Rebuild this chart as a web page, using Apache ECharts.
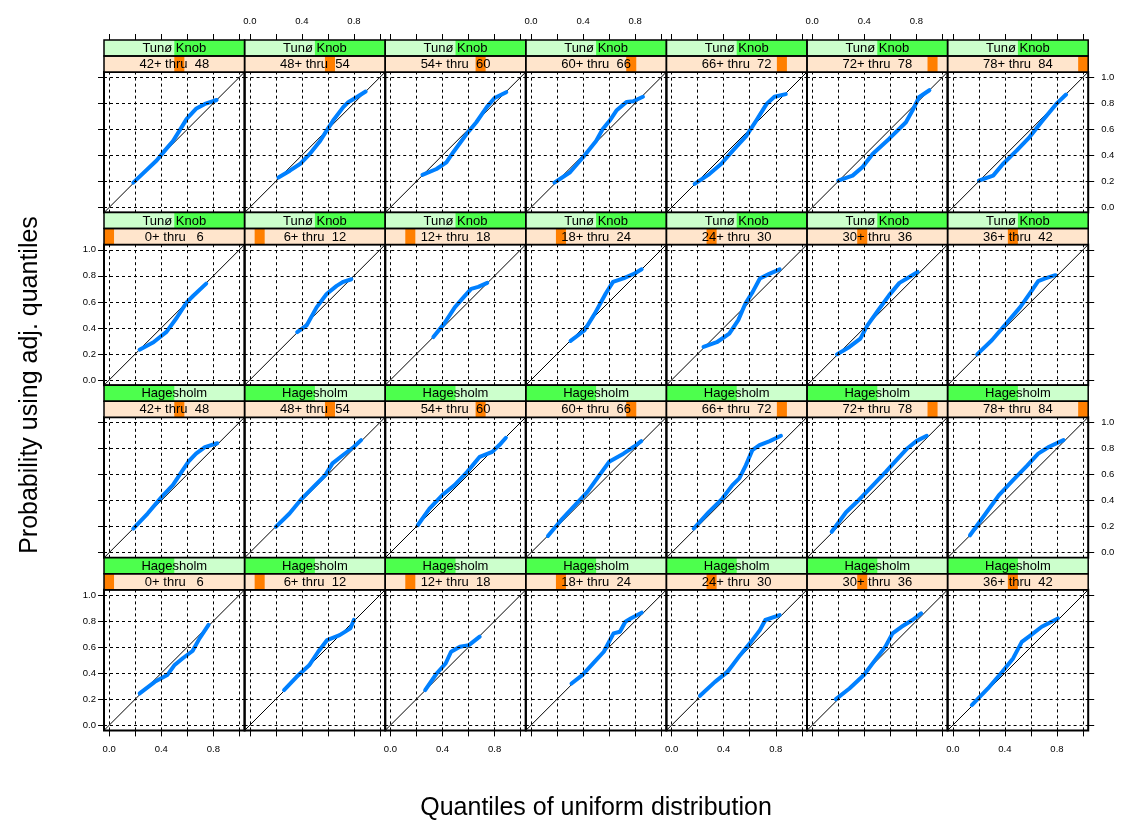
<!DOCTYPE html>
<html><head><meta charset="utf-8">
<script src="https://cdn.jsdelivr.net/npm/echarts@6/dist/echarts.min.js"></script>
<style>html,body{margin:0;padding:0;background:#fff}#c{width:1121px;height:824px}</style>
</head><body><div id="c"></div>
<script>
// ---------- categories ----------
const stations = ['Hagesholm', 'Tunø Knob'];
const ageLevels = ['0+ thru   6','6+ thru  12','12+ thru  18','18+ thru  24','24+ thru  30','30+ thru  36','36+ thru  42',
                   '42+ thru  48','48+ thru  54','54+ thru  60','60+ thru  66','66+ thru  72','72+ thru  78','78+ thru  84'];
const gridTicks = [0, 0.2, 0.4, 0.6, 0.8, 1.0];
const labelTicks = [0, 0.4, 0.8];
const axisRange = [-0.04, 1.04];
const xTitle = 'Quantiles of uniform distribution';
const yTitle = 'Probability using adj. quantiles';

// ---------- series values: [uniform quantile, probability] ----------
// Hagesholm
const h_00_06 = [[0.234,0.244],[0.35,0.333],[0.446,0.385],[0.50,0.46],[0.57,0.518],[0.64,0.57],[0.694,0.667],[0.763,0.77]];
const h_06_12 = [[0.263,0.27],[0.36,0.372],[0.456,0.46],[0.525,0.564],[0.594,0.654],[0.69,0.692],[0.773,0.744],[0.80,0.81]];
const h_12_18 = [[0.267,0.27],[0.355,0.397],[0.424,0.474],[0.466,0.564],[0.534,0.603],[0.603,0.615],[0.686,0.68]];
const h_18_24 = [[0.311,0.32],[0.394,0.385],[0.477,0.474],[0.559,0.564],[0.60,0.641],[0.634,0.705],[0.683,0.718],[0.725,0.795],[0.766,0.82],[0.85,0.864]];
const h_24_30 = [[0.218,0.226],[0.333,0.333],[0.43,0.41],[0.526,0.538],[0.61,0.64],[0.678,0.73],[0.72,0.808],[0.83,0.846]];
const h_30_36 = [[0.182,0.20],[0.286,0.282],[0.397,0.385],[0.493,0.513],[0.562,0.603],[0.617,0.705],[0.686,0.756],[0.77,0.808],[0.837,0.859]];
const h_36_42 = [[0.146,0.154],[0.27,0.282],[0.38,0.41],[0.463,0.513],[0.53,0.64],[0.60,0.692],[0.683,0.756],[0.807,0.82]];
const h_42_48 = [[0.185,0.185],[0.295,0.30],[0.405,0.43],[0.49,0.52],[0.556,0.62],[0.61,0.70],[0.667,0.76],[0.735,0.81],[0.83,0.84]];
const h_48_54 = [[0.20,0.197],[0.305,0.30],[0.40,0.415],[0.497,0.513],[0.58,0.595],[0.635,0.685],[0.717,0.75],[0.80,0.813],[0.855,0.864]];
const h_54_60 = [[0.21,0.21],[0.30,0.338],[0.397,0.44],[0.493,0.518],[0.59,0.62],[0.686,0.736],[0.782,0.774],[0.837,0.826],[0.887,0.882]];
const h_60_66 = [[0.13,0.128],[0.24,0.26],[0.324,0.35],[0.434,0.467],[0.516,0.582],[0.60,0.697],[0.71,0.76],[0.79,0.813],[0.847,0.856]];
const h_66_72 = [[0.17,0.185],[0.287,0.313],[0.39,0.415],[0.467,0.518],[0.52,0.57],[0.57,0.67],[0.62,0.787],[0.675,0.826],[0.754,0.856],[0.84,0.897]];
const h_72_78 = [[0.15,0.16],[0.26,0.31],[0.344,0.39],[0.455,0.505],[0.565,0.62],[0.647,0.71],[0.73,0.80],[0.80,0.856],[0.88,0.897]];
const h_78_84 = [[0.132,0.133],[0.243,0.287],[0.353,0.44],[0.463,0.556],[0.573,0.67],[0.656,0.76],[0.74,0.813],[0.85,0.864]];
// Tunø Knob
const tk_00_06 = [[0.233,0.233],[0.34,0.29],[0.44,0.37],[0.52,0.48],[0.595,0.596],[0.646,0.647],[0.745,0.74]];
const tk_06_12 = [[0.364,0.368],[0.436,0.419],[0.513,0.558],[0.59,0.66],[0.667,0.723],[0.718,0.754],[0.78,0.774]];
const tk_12_18 = [[0.33,0.33],[0.413,0.433],[0.496,0.56],[0.565,0.638],[0.62,0.70],[0.675,0.715],[0.744,0.746]];
const tk_18_24 = [[0.304,0.30],[0.41,0.38],[0.49,0.51],[0.574,0.664],[0.63,0.754],[0.71,0.78],[0.795,0.818],[0.85,0.85]];
const tk_24_30 = [[0.245,0.254],[0.347,0.29],[0.443,0.356],[0.512,0.46],[0.567,0.587],[0.623,0.677],[0.678,0.78],[0.746,0.813],[0.83,0.85]];
const tk_30_36 = [[0.19,0.197],[0.286,0.254],[0.37,0.318],[0.424,0.42],[0.507,0.536],[0.59,0.65],[0.67,0.746],[0.74,0.787],[0.81,0.83]];
const tk_36_42 = [[0.187,0.197],[0.30,0.305],[0.41,0.433],[0.518,0.56],[0.60,0.677],[0.656,0.76],[0.71,0.78],[0.788,0.805]];
const tk_42_48 = [[0.185,0.19],[0.364,0.36],[0.43,0.44],[0.49,0.51],[0.54,0.59],[0.595,0.68],[0.67,0.76],[0.735,0.795],[0.825,0.825]];
const tk_48_54 = [[0.22,0.23],[0.308,0.282],[0.385,0.333],[0.46,0.41],[0.54,0.51],[0.59,0.59],[0.64,0.667],[0.718,0.77],[0.756,0.808],[0.82,0.846],[0.89,0.89]];
const tk_54_60 = [[0.246,0.25],[0.354,0.295],[0.43,0.346],[0.48,0.42],[0.585,0.564],[0.66,0.654],[0.74,0.77],[0.80,0.84],[0.89,0.885]];
const tk_60_66 = [[0.18,0.19],[0.30,0.27],[0.40,0.385],[0.50,0.51],[0.55,0.60],[0.605,0.667],[0.656,0.744],[0.733,0.81],[0.785,0.815],[0.86,0.85]];
const tk_66_72 = [[0.177,0.18],[0.29,0.256],[0.38,0.333],[0.47,0.436],[0.574,0.55],[0.65,0.667],[0.73,0.795],[0.79,0.85],[0.877,0.87]];
const tk_72_78 = [[0.20,0.205],[0.31,0.244],[0.387,0.31],[0.464,0.41],[0.59,0.526],[0.72,0.654],[0.77,0.744],[0.82,0.846],[0.90,0.90]];
const tk_78_84 = [[0.20,0.205],[0.31,0.244],[0.385,0.333],[0.49,0.436],[0.59,0.54],[0.69,0.667],[0.795,0.795],[0.87,0.867]];

const dataByStation = [
  [h_00_06,h_06_12,h_12_18,h_18_24,h_24_30,h_30_36,h_36_42,h_42_48,h_48_54,h_54_60,h_60_66,h_66_72,h_72_78,h_78_84],
  [tk_00_06,tk_06_12,tk_12_18,tk_18_24,tk_24_30,tk_30_36,tk_36_42,tk_42_48,tk_48_54,tk_54_60,tk_60_66,tk_66_72,tk_72_78,tk_78_84]
];

// panel rows from top: [station index, first age index]
const rowSpec = [[1,7],[1,0],[0,7],[0,0]];
const nCols = 7;

// ---------- layout / style ----------
const PL = 104, PW = 140.6, SH = 16, TOP = 40;
const FONT = '"Liberation Sans", Arial, Helvetica, sans-serif';
const C = { stripBg1:'#ccffcc', stripFg1:'#4dff4d', stripBg2:'#ffe5cc', stripFg2:'#ff7f00', line:'#0080ff' };

const option = {
  animation:false,
  textStyle:{fontFamily:FONT},
  grid:[], xAxis:[], yAxis:[], series:[], graphic:[]
};

const refLine = [[axisRange[0],axisRange[0]],[axisRange[1],axisRange[1]]];
const gridMarks = gridTicks.map(v=>({xAxis:v})).concat(gridTicks.map(v=>({yAxis:v})));

rowSpec.forEach(([s, a0], r) => {
  for (let c = 0; c < nCols; c++) {
    const a = a0 + c;
    const i = option.grid.length;
    const left = PL + c*PW;
    const stripTop = TOP + r*(2*SH + PW);
    const top = stripTop + 2*SH;
    const isTop = r === 0, isBottom = r === rowSpec.length-1;
    const isLeft = c === 0, isRight = c === nCols-1;
    option.grid.push({left:left, top:top, width:PW, height:PW, show:true, borderColor:'#000', borderWidth:2, backgroundColor:'transparent'});
    option.xAxis.push({
      gridIndex:i, type:'value', min:axisRange[0], max:axisRange[1],
      show: isTop || isBottom, position: isTop ? 'top' : 'bottom', offset: isTop ? 2*SH : 0,
      axisLine:{show:false, onZero:false}, splitLine:{show:false},
      axisTick:{show:true, customValues:gridTicks, length:6, lineStyle:{color:'#000', width:1}},
      axisLabel:{show: isTop ? (c%2===1) : (c%2===0), customValues:labelTicks, formatter:v=>v.toFixed(1),
                 fontSize:9.5, color:'#000', margin:14, fontFamily:FONT}
    });
    option.yAxis.push({
      gridIndex:i, type:'value', min:axisRange[0], max:axisRange[1],
      show: isLeft || isRight, position: isLeft ? 'left' : 'right',
      axisLine:{show:false, onZero:false}, splitLine:{show:false},
      axisTick:{show:true, customValues:gridTicks, length:6, lineStyle:{color:'#000', width:1}},
      axisLabel:{show: isLeft ? (r%2===1) : (r%2===0), customValues:gridTicks, formatter:v=>v.toFixed(1),
                 fontSize:9.5, color:'#000', margin:isLeft?8:13, fontFamily:FONT}
    });
    option.series.push({
      type:'line', xAxisIndex:i, yAxisIndex:i, data:refLine, symbol:'none', silent:true, z:2,
      lineStyle:{color:'#000', width:1},
      markLine:{silent:true, symbol:'none', animation:false, label:{show:false}, emphasis:{disabled:true},
                lineStyle:{color:'#000', width:1, type:[3,3]}, data:gridMarks}
    });
    option.series.push({
      type:'line', xAxisIndex:i, yAxisIndex:i, data:dataByStation[s][a], symbol:'none', silent:true, z:3,
      lineStyle:{color:C.line, width:4, cap:'round', join:'round'}
    });
    // strips
    const G = option.graphic;
    G.push({type:'rect', z:10, shape:{x:left, y:stripTop, width:PW, height:SH}, style:{fill:C.stripBg1}});
    G.push({type:'rect', z:10, shape:{x:left + s*PW/stations.length, y:stripTop, width:PW/stations.length, height:SH}, style:{fill:C.stripFg1}});
    G.push({type:'rect', z:11, shape:{x:left, y:stripTop, width:PW, height:SH}, style:{fill:null, stroke:'#000', lineWidth:1.5}});
    G.push({type:'text', z:12, x:left+PW/2, y:stripTop+SH/2+0.5, style:{text:stations[s], fill:'#000', font:'13px '+FONT,
            align:'center', verticalAlign:'middle', textAlign:'center', textVerticalAlign:'middle'}});
    G.push({type:'rect', z:10, shape:{x:left, y:stripTop+SH, width:PW, height:SH}, style:{fill:C.stripBg2}});
    G.push({type:'rect', z:10, shape:{x:left + a*PW/ageLevels.length, y:stripTop+SH, width:PW/ageLevels.length, height:SH}, style:{fill:C.stripFg2}});
    G.push({type:'rect', z:11, shape:{x:left, y:stripTop+SH, width:PW, height:SH}, style:{fill:null, stroke:'#000', lineWidth:1.5}});
    G.push({type:'text', z:12, x:left+PW/2, y:stripTop+1.5*SH+0.5, style:{text:ageLevels[a], fill:'#000', font:'13px '+FONT,
            align:'center', verticalAlign:'middle', textAlign:'center', textVerticalAlign:'middle'}});
  }
});

option.graphic.push({type:'text', z:12, x:596, y:808, style:{text:xTitle, fill:'#000', font:'25px '+FONT,
  align:'center', verticalAlign:'middle', textAlign:'center', textVerticalAlign:'middle'}});
option.graphic.push({type:'text', z:12, x:30, y:385, rotation:Math.PI/2, style:{text:yTitle, fill:'#000', font:'25px '+FONT,
  align:'center', verticalAlign:'middle', textAlign:'center', textVerticalAlign:'middle'}});

const chart = echarts.init(document.getElementById('c'), null, {renderer:'canvas'});
chart.setOption(option);
</script>
</body></html>
